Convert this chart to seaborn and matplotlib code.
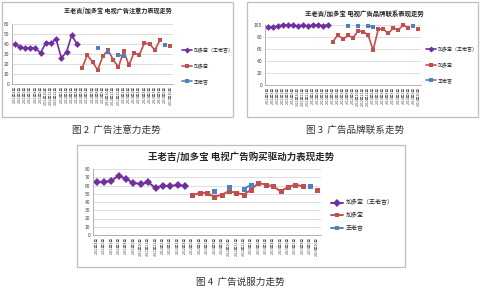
import numpy as np
import pandas as pd
import matplotlib
matplotlib.use('Agg')
import matplotlib.pyplot as plt
import seaborn as sns
from matplotlib.patches import Rectangle
from matplotlib.lines import Line2D

sns.set_theme(style='white')
plt.rcParams['font.family'] = ['Noto Sans CJK SC', 'DejaVu Sans']

N = None
months = ['2011年4月', '2011年5月', '2011年6月', '2011年7月', '2011年8月', '2011年9月',
          '2011年10月', '2011年11月', '2011年12月', '2012年1月', '2012年2月', '2012年3月',
          '2012年4月', '2012年5月', '2012年6月', '2012年7月', '2012年8月', '2012年9月',
          '2012年10月', '2012年11月', '2012年12月', '2013年1月', '2013年2月', '2013年3月',
          '2013年4月', '2013年5月', '2013年6月', '2013年7月', '2013年8月', '2013年9月',
          '2013年10月']

series_names = ['加多宝（王老吉）', '加多宝', '王老吉']

att_wlj = [40, 37, 36, 36, 36, 31, 41, 41, 45, 26, 32, 49, 40,
           N, N, N, N, N, N, N, N, N, N, N, N, N, N, N, N, N, N]
att_jdb = [N, N, N, N, N, N, N, N, N, N, N, N, N,
           16, 29, 22, 14, 28, 34, 24, 17, 33, 19, 31, 29, 41, 40, 34, 44, N, 38]
att_blue = [N, N, N, N, N, N, N, N, N, N, N, N, N, N, N, N,
            36, N, 32, N, 29, 28, N, N, N, N, N, N, N, 39, N]

brand_wlj = [97, 96, 98, 100, 100, 100, 98, 100, 98, 100, 100, 99, 100,
             N, N, N, N, N, N, N, N, N, N, N, N, N, N, N, N, N, N]
brand_jdb = [N, N, N, N, N, N, N, N, N, N, N, N, N,
             72, 84, 76, 83, 79, 90, 89, 83, 58, 93, 93, 86, 95, 92, 100, 95, N, 93]
brand_blue = [N, N, N, N, N, N, N, N, N, N, N, N, N, N, N, N,
              99, N, 98, N, 99, 97, N, N, N, N, N, N, N, 98, N]

buy_wlj = [64, 64, 66, 72, 68, 63, 62, 64, 57, 60, 59, 61, 59,
           N, N, N, N, N, N, N, N, N, N, N, N, N, N, N, N, N, N]
buy_jdb = [N, N, N, N, N, N, N, N, N, N, N, N, N,
           48, 51, 51, 46, 49, 53, 51, 49, 55, 63, 61, 59, 53, 58, 61, 59, N, 54]
buy_blue = [N, N, N, N, N, N, N, N, N, N, N, N, N, N, N, N,
            53, N, 58, N, 56, 61, N, N, N, N, N, N, N, 59, N]

PURPLE = '#7030A0'
RED = '#C0504D'
BLUE = '#4F81BD'
GRID = '#D9D9D9'
FRAME = '#BFBFBF'

W, H = 480, 292
fig = plt.figure(figsize=(W / 100, H / 100), dpi=100)
fig.patch.set_facecolor('white')


def fx(x):
    return x / W


def fy(y):
    return 1 - y / H


def frame(x0, y0, x1, y1):
    fig.patches.append(Rectangle((fx(x0), fy(y1)), fx(x1 - x0), (y1 - y0) / H,
                                 transform=fig.transFigure, fill=False,
                                 edgecolor=FRAME, linewidth=0.9))


def chart(box, ymax, ystep, data, title, title_xy, title_fs, leg_xy, leg_sp, leg_fs, ms, lw):
    l, t, r, b = box
    ax = fig.add_axes([fx(l), fy(b), fx(r - l), (b - t) / H])
    ax.set_facecolor('none')
    styles = [(PURPLE, 'D', ms * 1.15), (RED, 's', ms), (BLUE, 's', ms)]
    handles = []
    for vals, (col, mk, m), name in zip(data, styles, series_names):
        s = pd.Series(vals, dtype=float)
        df = pd.DataFrame({'x': np.arange(len(s)), 'y': s, 'seg': s.isna().cumsum()})
        df = df.dropna()
        sns.lineplot(data=df, x='x', y='y', units='seg', estimator=None, ax=ax,
                     color=col, marker=mk, markersize=m, markeredgecolor=col,
                     markeredgewidth=0, linewidth=lw, legend=False, clip_on=False)
        handles.append(Line2D([], [], color=col, marker=mk, markersize=m * 0.9,
                              markeredgewidth=0, linewidth=lw))
    ax.set_xlim(-0.5, len(months) - 0.5)
    ax.set_ylim(0, ymax)
    ax.set_yticks(np.arange(0, ymax + 1, ystep))
    ax.set_xticks(np.arange(len(months)))
    ax.set_xticklabels(months, rotation=90, fontsize=2.6, color='#404040')
    ax.tick_params(axis='y', labelsize=3.6, labelcolor='#404040', length=0, pad=2)
    ax.tick_params(axis='x', length=0, pad=1.5)
    ax.set_xlabel('')
    ax.set_ylabel('')
    ax.grid(axis='y', color=GRID, linewidth=0.6)
    ax.set_axisbelow(True)
    for sp in ['top', 'right']:
        ax.spines[sp].set_visible(False)
    for sp in ['left', 'bottom']:
        ax.spines[sp].set_color('#A6A6A6')
        ax.spines[sp].set_linewidth(0.6)
    fig.text(fx(title_xy[0]), fy(title_xy[1]), title, ha='center', va='center',
             fontsize=title_fs, fontweight='bold', color='#262626')
    fig.legend(handles, series_names, loc='center left',
               bbox_to_anchor=(fx(leg_xy[0]), fy(leg_xy[1])), frameon=False,
               fontsize=leg_fs, handlelength=2.0, handletextpad=0.4,
               labelspacing=leg_sp, borderaxespad=0, borderpad=0)
    return ax


frame(2, 2, 233, 117)
chart((12, 24, 173, 84), 60, 10, [att_wlj, att_jdb, att_blue],
      '王老吉/加多宝 电视广告注意力表现走势', (118, 10), 4.4, (182, 66), 2.1, 3.6, 3.0, 1.2)

frame(247, 2, 478, 117)
chart((265, 25, 421, 85), 100, 20, [brand_wlj, brand_jdb, brand_blue],
      '王老吉/加多宝 电视广告品牌联系表现走势', (364, 13), 4.6, (426, 65), 2.1, 3.6, 3.0, 1.2)

frame(77, 145, 405, 267)
chart((93, 169, 321, 235), 80, 10, [buy_wlj, buy_jdb, buy_blue],
      '王老吉/加多宝 电视广告购买驱动力表现走势', (241, 157), 6.8, (331, 215), 1.1, 4.3, 3.6, 1.4)

fig.text(fx(116), fy(130), '图 2  广告注意力走势', ha='center', va='center',
         fontsize=6.9, color='#333333')
fig.text(fx(355), fy(130), '图 3  广告品牌联系走势', ha='center', va='center',
         fontsize=6.9, color='#333333')
fig.text(fx(240), fy(282), '图 4  广告说服力走势', ha='center', va='center',
         fontsize=6.9, color='#333333')

fig.savefig('out.png', dpi=100, facecolor='white')
